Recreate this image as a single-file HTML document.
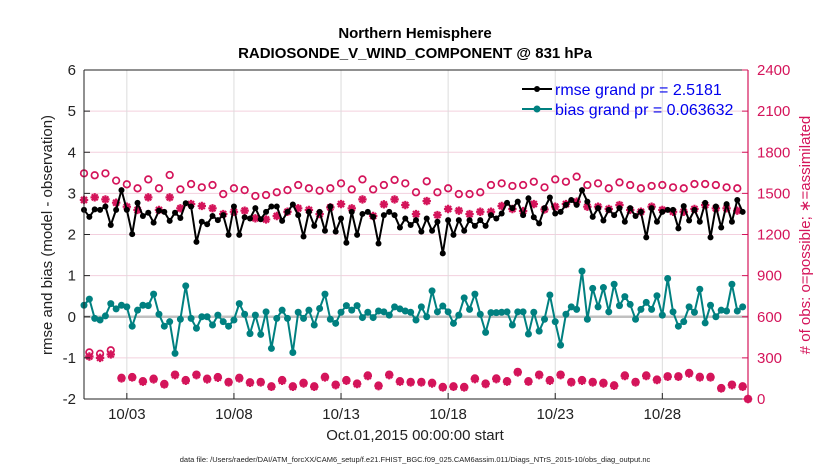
<!DOCTYPE html>
<html><head><meta charset="utf-8"><style>
body{margin:0;background:#fff}
svg{display:block;font-family:"Liberation Sans",Arial,sans-serif}
</style></head><body>
<svg id="chart" width="830" height="470" viewBox="0 0 830 470" xmlns="http://www.w3.org/2000/svg">
<text x="415" y="38" text-anchor="middle" font-size="15" font-weight="bold" fill="#000">Northern Hemisphere</text>
<text x="415" y="58" text-anchor="middle" font-size="15" font-weight="bold" fill="#000">RADIOSONDE_V_WIND_COMPONENT @ 831 hPa</text>
<g id="grid"></g>
<g id="marks"></g>
<g id="axes"></g>
<text transform="translate(52,235) rotate(-90)" text-anchor="middle" font-size="15" fill="#222">rmse and bias (model - observation)</text>
<text transform="translate(810,235) rotate(-90)" text-anchor="middle" font-size="15" fill="#d4145a"># of obs: o=possible; ∗=assimilated</text>
<text x="415" y="440" text-anchor="middle" font-size="15" fill="#222">Oct.01,2015 00:00:00 start</text>
<text x="415" y="462" text-anchor="middle" font-size="7.5" fill="#222">data file: /Users/raeder/DAI/ATM_forcXX/CAM6_setup/f.e21.FHIST_BGC.f09_025.CAM6assim.011/Diags_NTrS_2015-10/obs_diag_output.nc</text>
<g>
<line x1="522" y1="89" x2="552" y2="89" stroke="#000" stroke-width="2"/><circle cx="537" cy="89" r="3" fill="#000"/>
<text x="555" y="95" font-size="16" fill="#0000ee">rmse grand pr = 2.5181</text>
<line x1="522" y1="109" x2="552" y2="109" stroke="#008080" stroke-width="2"/><circle cx="537" cy="109" r="3.5" fill="#008080"/>
<text x="555" y="115" font-size="16" fill="#0000ee">bias grand pr = 0.063632</text>
</g>
</svg>
<script>
const rmse=[2.6,2.43,2.61,2.6,2.68,2.23,2.6,3.08,2.6,2.01,2.77,2.45,2.53,2.29,2.58,2.55,2.33,2.53,2.4,2.76,2.68,1.82,2.31,2.25,2.45,2.35,2.47,1.99,2.68,1.99,2.42,2.39,2.64,2.37,2.55,2.68,2.68,2.33,2.55,2.73,2.47,1.95,2.55,2.21,2.55,2.09,2.68,2.07,2.39,1.8,2.55,1.99,2.5,2.55,2.43,1.78,2.47,2.55,2.47,2.17,2.39,2.23,2.35,2.07,2.39,2.09,2.31,1.54,2.35,1.99,2.35,2.09,2.35,2.21,2.35,2.21,2.47,2.39,2.51,2.77,2.64,2.8,2.47,2.88,2.42,2.27,2.64,2.9,2.51,2.55,2.72,2.84,2.72,3.08,2.8,2.43,2.64,2.34,2.6,2.47,2.64,2.31,2.64,2.45,2.55,1.93,2.64,2.31,2.55,2.6,2.6,2.15,2.69,2.34,2.6,2.31,2.77,1.93,2.68,2.17,2.74,2.31,2.84,2.55,null];
const bias=[0.28,0.43,-0.04,-0.08,0.02,0.32,0.19,0.28,0.24,-0.23,0.16,0.28,0.27,0.55,0.06,-0.23,-0.12,-0.89,-0.06,0.75,-0.04,-0.28,0,0,-0.2,0.04,-0.12,-0.23,-0.08,0.32,0.06,-0.41,0.04,-0.43,0.12,-0.77,-0.04,0.16,-0.04,-0.87,0.11,-0.04,0.16,-0.2,0.2,0.55,-0.06,-0.16,0.11,0.27,0.16,0.27,-0.02,0.11,-0.02,0.14,0.12,0.04,0.24,0.19,0.14,0.11,-0.08,0.24,0,0.63,0.12,0.26,0.12,-0.16,0.04,0.46,0.18,0.55,0.06,-0.38,0.1,0.1,0.11,0.12,-0.2,0.12,0.12,-0.42,0.11,-0.35,-0.06,0.53,-0.12,-0.69,0.06,0.24,0.18,1.11,-0.06,0.69,0.24,0.71,0.12,0.79,0.27,0.49,0.3,-0.06,0.18,0.35,0.18,0.51,0.04,0.93,0.12,-0.23,-0.12,0.24,0.11,0.67,-0.15,0.28,0,0.16,0.14,0.79,0.14,0.24,null];
const nPossible=[1646,340,1632,330,1646,355,1593,155,1566,160,1537,130,1602,148,1537,110,1634,178,1529,138,1568,178,1544,148,1561,160,1495,125,1537,155,1524,122,1481,125,1488,93,1508,138,1524,93,1561,118,1537,93,1520,162,1537,105,1573,138,1529,113,1602,172,1529,98,1561,178,1598,130,1573,125,1508,125,1588,118,1508,88,1537,93,1495,88,1495,150,1508,113,1561,150,1573,130,1554,198,1561,130,1585,178,1544,138,1602,178,1585,125,1622,138,1561,125,1573,118,1537,100,1580,172,1561,125,1537,172,1554,142,1561,166,1544,166,1537,190,1568,162,1568,162,1561,80,1544,105,1537,93,0];
const nAssim=[1452,310,1471,300,1456,325,1432,150,1403,157,1379,126,1471,143,1379,106,1471,174,1391,133,1422,174,1408,143,1391,155,1349,121,1366,150,1374,118,1318,121,1310,89,1335,133,1366,89,1391,113,1379,89,1349,157,1398,101,1422,133,1391,109,1456,167,1335,94,1420,174,1456,126,1415,121,1349,121,1444,113,1342,84,1386,89,1374,84,1349,145,1366,109,1366,145,1408,126,1386,194,1371,126,1422,174,1383,133,1403,174,1422,121,1439,133,1403,121,1403,113,1386,96,1415,167,1379,121,1366,167,1403,138,1379,162,1366,162,1366,186,1386,157,1415,157,1391,77,1391,101,1374,89,0];
const leftTicks=[-2,-1,0,1,2,3,4,5,6];
const rightTicks=[0,300,600,900,1200,1500,1800,2100,2400];
const dayTicks=[2,7,12,17,22,27];
const dayLabels=["10/03","10/08","10/13","10/18","10/23","10/28"];
const stepDays=0.25;

const L=84,R=748,T=70,B=399;
const xS=d=>L+(R-L)*d/31;
const yL=v=>B-(B-T)*(v+2)/8;
const yR=c=>B-(B-T)*c/2400;
const NS="http://www.w3.org/2000/svg";
function mk(parent,tag,attrs){const e=document.createElementNS(NS,tag);for(const k in attrs)e.setAttribute(k,attrs[k]);parent.appendChild(e);return e;}
const grid=document.getElementById('grid'),marks=document.getElementById('marks'),axes=document.getElementById('axes');

leftTicks.forEach(v=>{
  const g=mk(grid,'line',{x1:L,x2:R,y1:yL(v),y2:yL(v),stroke:'#f3d0de','stroke-width':1});
  
  
  const t=mk(axes,'text',{x:L-8,y:yL(v)+5,'text-anchor':'end','font-size':15,fill:'#222'});
  t.textContent=v;
  
  
  mk(axes,'line',{x1:L,x2:L+6,y1:yL(v),y2:yL(v),stroke:'#222'});
});
dayTicks.forEach((d,i)=>{
  const g=mk(grid,'line',{x1:xS(d),x2:xS(d),y1:T,y2:B,stroke:'#dcdcdc','stroke-width':1});
  
  
  mk(axes,'line',{x1:xS(d),x2:xS(d),y1:B,y2:B-6,stroke:'#222'});
  const t=mk(axes,'text',{x:xS(d),y:B+20,'text-anchor':'middle','font-size':15,fill:'#222'});
  t.textContent=dayLabels[i];
  
  
});
const zl=mk(grid,'line',{x1:L,x2:R,y1:yL(0),y2:yL(0),stroke:'#c0c0c0','stroke-width':2.5});



nPossible.forEach((c,i)=>{
  const e=mk(marks,'circle',{cx:xS(i*stepDays),cy:yR(c),r:3.3,fill:'none',stroke:'#d4145a','stroke-width':1.7});
  
  
});
nAssim.forEach((c,i)=>{
  const x=xS(i*stepDays),y=yR(c),s=4.2,d=3;
  const e=mk(marks,'path',{d:`M${x-s},${y}H${x+s}M${x},${y-s}V${y+s}M${x-d},${y-d}L${x+d},${y+d}M${x-d},${y+d}L${x+d},${y-d}`,stroke:'#d4145a','stroke-width':2.2,fill:'none'});
  
  
});
function series(arr,color,r,name){
  let d='';arr.forEach((v,i)=>{if(v===null)return;d+=(d?'L':'M')+xS(i*stepDays).toFixed(1)+','+yL(v).toFixed(1);});
  const p=mk(marks,'path',{d:d,stroke:color,'stroke-width':2,fill:'none','stroke-linejoin':'round'});
  
  
  arr.forEach((v,i)=>{if(v===null)return;
    const c=mk(marks,'circle',{cx:xS(i*stepDays),cy:yL(v),r:r,fill:color});
    
    
  });
}
series(bias,'#008080',3.5,'bias');
series(rmse,'#000',3,'rmse');

mk(axes,'line',{x1:L,x2:L,y1:T,y2:B,stroke:'#222','stroke-width':1});
mk(axes,'line',{x1:L,x2:R,y1:B,y2:B,stroke:'#222','stroke-width':1});
mk(axes,'line',{x1:L,x2:R,y1:T,y2:T,stroke:'#222','stroke-width':1});
mk(axes,'line',{x1:R,x2:R,y1:T,y2:B,stroke:'#d4145a','stroke-width':1.2});
rightTicks.forEach(c=>{
  mk(axes,'line',{x1:R,x2:R-6,y1:yR(c),y2:yR(c),stroke:'#d4145a'});
  const t=mk(axes,'text',{x:R+9,y:yR(c)+5,'font-size':15,fill:'#d4145a'});
  t.textContent=c;
  
  
});
</script>
</body></html>
